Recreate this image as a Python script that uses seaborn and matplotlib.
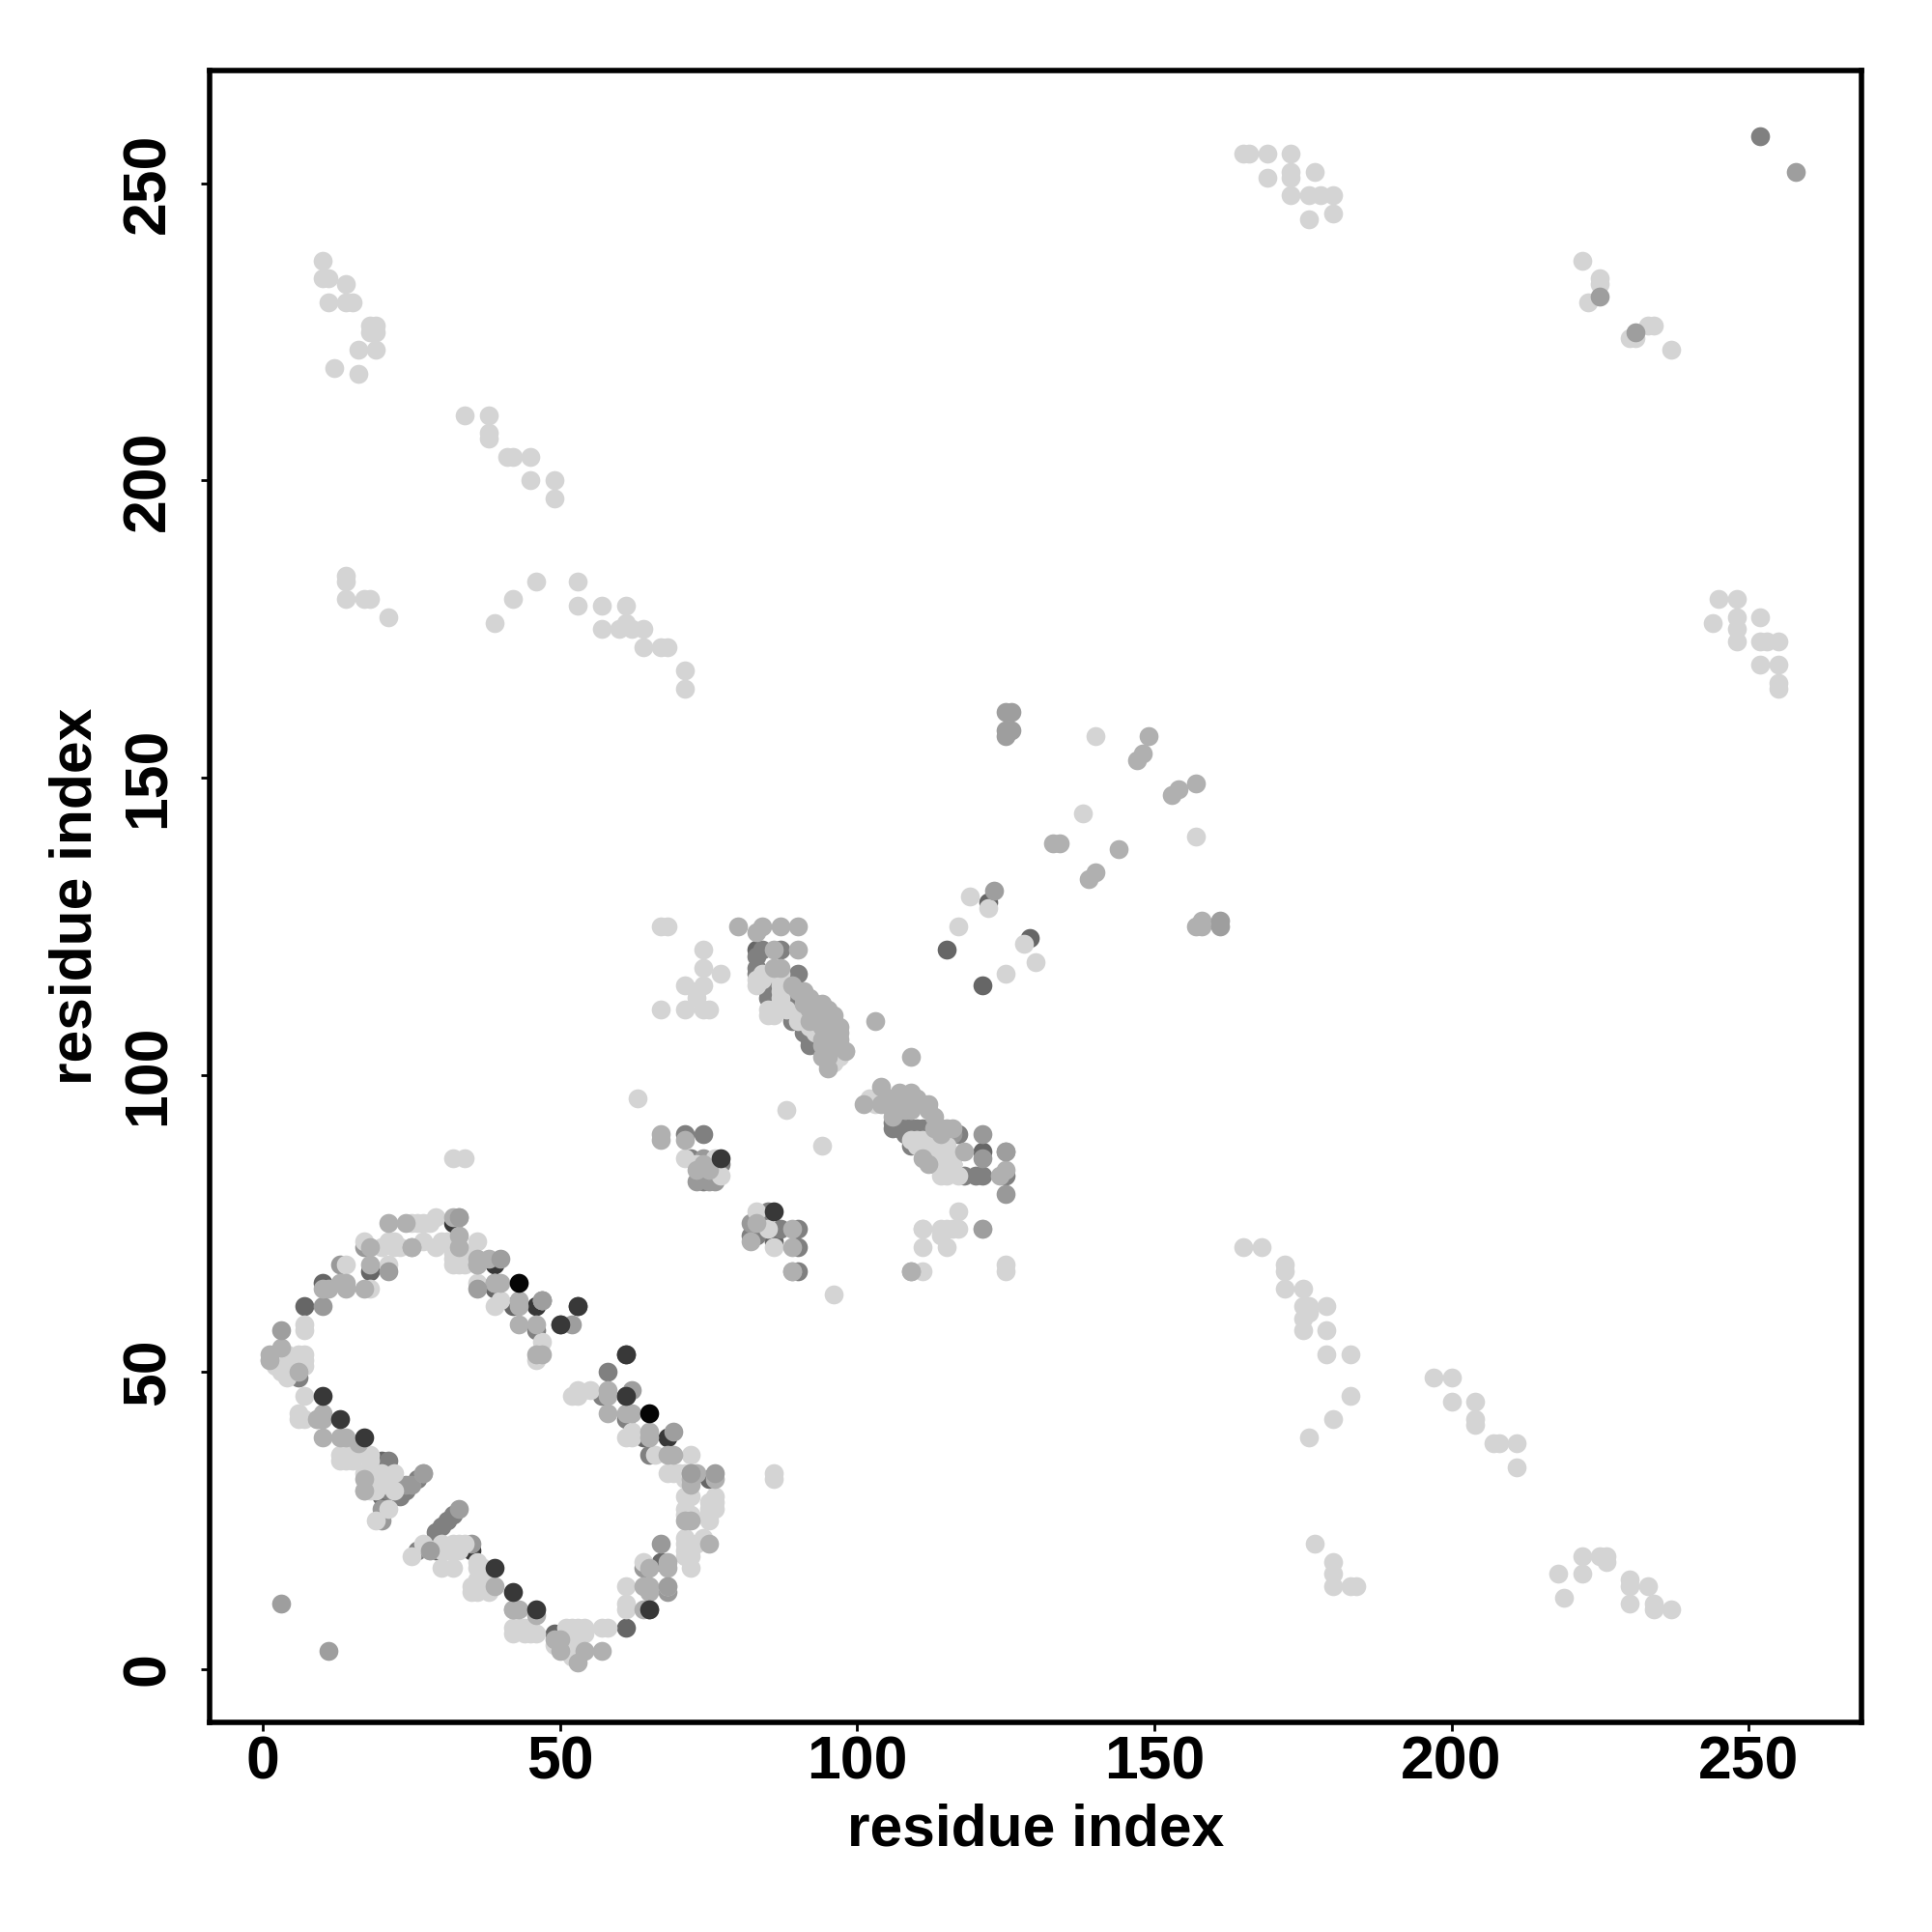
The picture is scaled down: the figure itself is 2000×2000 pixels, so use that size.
import matplotlib
matplotlib.use('Agg')
import matplotlib.pyplot as plt
import seaborn as sns

# Contact map points, grouped by grey level and listed in drawing order
dark22_x = [32, 35, 39, 46, 61, 68]
dark22_y = [75, 20, 68, 61, 46, 39]

dark40_x = [18, 10, 7, 39, 42, 20, 20, 29, 49, 61, 64, 67, 53, 61, 75, 122, 129, 115, 121, 121, 83, 86]
dark40_y = [67, 65, 61, 64, 61, 35, 29, 20, 6, 7, 39, 18, 61, 53, 32, 129, 123, 121, 115, 87, 121, 72]

dark50_x = [6, 21, 21, 26, 24, 23, 20, 32, 31, 30, 29, 26, 46, 50, 58, 57, 65, 61, 65,
            83, 84, 87, 83, 83, 85, 85, 85, 85, 89, 89, 89, 89, 91, 91, 92, 92, 90, 93, 94,
            71, 74, 72, 77, 74, 85, 82, 83, 87, 90, 90, 90,
            106, 107, 108, 109, 110, 111, 109, 113, 115, 116, 117, 118, 120, 121, 125, 252,
            106, 108, 109, 111, 112, 113, 114, 112, 111]
dark50_y = [49, 35, 30, 32, 30, 29, 26, 26, 25, 24, 23, 20, 57, 58, 50, 46, 10, 42, 36,
            120, 121, 121, 118, 117, 116, 115, 114, 113, 113, 112, 110, 109, 108, 107, 106, 105, 117, 106, 104,
            90, 90, 86, 85, 82, 77, 73, 73, 74, 74, 71, 67,
            91, 91, 91, 91, 91, 91, 88, 85, 85, 85, 90, 83, 83, 83, 83, 258,
            92, 90, 90, 90, 90, 90, 87, 88, 88]

mid60_x = [17, 10, 13, 20, 20, 24, 25, 35, 64, 68, 67, 82, 74, 76, 73, 75, 115, 116, 121, 125, 125, 121]
mid60_y = [71, 61, 68, 27, 25, 31, 31, 21, 17, 13, 21, 75, 86, 82, 82, 82, 90, 90, 86, 87, 80, 90]

light83_x = [25, 26, 27, 28, 29, 30, 36, 27, 29, 17, 20, 21, 22, 14, 21, 18, 7, 7,
             2, 4, 6, 7, 7, 7, 3, 4, 5, 1, 7, 6, 6, 7, 9, 14, 13, 13, 14, 18, 21, 21, 18, 17, 19,
             30, 32, 33, 27, 28, 25, 30, 32, 36, 36, 35, 36, 35, 36, 42, 43, 42, 44,
             49, 51, 52, 53, 50, 51, 52, 53, 57, 58, 61, 61, 61, 64, 68, 71, 71, 72, 72, 71, 72, 75, 75, 75, 76, 68, 69, 66, 72,
             36, 32, 33, 32, 33, 40, 39, 47, 46, 53, 55, 52, 53, 62, 61, 62,
             83, 83, 84, 84, 87, 87, 87, 87, 87, 87, 85, 85, 86, 86, 88, 90, 90, 93, 96, 96, 97,
             67, 68, 74, 74, 77, 71, 73, 74, 73, 75, 67, 71, 74,
             63, 88, 94, 71, 76, 77, 83, 85, 86, 73,
             102, 103, 109, 110, 111, 112, 113, 114, 115, 116, 114, 115, 117, 111,
             111, 114, 115, 116, 117, 114, 117, 121, 111, 115, 111, 125, 125,
             32, 34, 86, 86, 96,
             119, 122, 117, 128, 130, 125, 138, 140, 157,
             15, 15, 17, 18, 19, 18, 20, 22, 22, 20,
             30, 31, 32, 33, 34, 37, 37, 37, 38, 36,
             22, 23, 31, 34, 33, 32, 34,
             3, 4, 5, 5, 6, 6, 2, 4,
             44, 45, 46, 45, 52, 53, 52, 52, 53, 51, 53, 54, 54,
             71, 71, 72, 75, 76, 76, 74, 73, 72, 71, 72, 71, 70, 71, 71,
             91, 92, 93, 97, 98,
             110, 113, 115, 111, 112, 113, 114, 116, 116]
light83_y = [75, 75, 75, 75, 76, 72, 72, 72, 71, 72, 71, 72, 71, 68, 68, 64, 58, 57,
             53, 53, 53, 53, 52, 51, 50, 49, 51, 52, 46, 43, 42, 42, 42, 36, 36, 35, 35, 36, 32, 27, 32, 30, 25,
             21, 21, 21, 21, 20, 19, 17, 17, 18, 17, 14, 14, 13, 13, 7, 7, 6, 6,
             4, 7, 7, 7, 5, 4, 2, 2, 7, 7, 14, 11, 10, 18, 14, 22, 20, 21, 17, 29, 29, 25, 27, 28, 29, 33, 33, 36, 36,
             65, 69, 69, 68, 68, 62, 61, 55, 52, 47, 47, 46, 46, 40, 39, 39,
             116, 115, 117, 116, 117, 116, 115, 114, 113, 112, 111, 110, 111, 110, 111, 110, 109, 107, 103, 102, 104,
             125, 125, 121, 118, 117, 115, 114, 115, 113, 111, 111, 111, 111,
             96, 94, 88, 86, 86, 83, 77, 74, 71, 85,
             96, 95, 89, 89, 89, 86, 86, 86, 86, 86, 83, 83, 83, 74,
             74, 74, 74, 74, 74, 73, 77, 74, 71, 71, 67, 68, 67,
             86, 86, 33, 32, 63,
             130, 128, 125, 122, 119, 117, 144, 157, 140,
             36, 35, 33, 35, 30, 30, 33, 30, 33, 31,
             20, 20, 20, 20, 21, 17, 15, 14, 13, 15,
             72, 71, 72, 70, 70, 70, 68,
             52, 51, 50, 52, 52, 51, 51, 50,
             7, 6, 6, 7, 5, 5, 3, 4, 4, 3, 3, 7, 6,
             27, 26, 26, 26, 28, 27, 22, 21, 19, 19, 20, 21, 33, 33, 32,
             109, 108, 108, 103, 104,
             88, 88, 88, 87, 87, 87, 84, 84, 85]

# isolated pale contacts far from the diagonal
far_x = [165, 166, 169, 173, 169, 173, 173, 177, 173, 176, 178, 180, 176, 180,
         10, 10, 11, 14, 11, 14, 15, 18, 19, 18, 19, 19, 16, 12, 16,
         34, 38, 38, 38, 41, 42, 45, 45, 49, 49,
         14, 14, 14, 17, 18, 21, 39, 42, 46, 53, 53, 57, 57, 61, 60, 61, 62, 64, 64, 67, 68, 71, 71,
         244, 245, 248, 248, 248, 248, 252, 252, 253, 255, 252, 255, 255, 255,
         222, 225, 225, 223, 230, 231, 233, 234, 237,
         165, 168, 172, 172, 172, 175, 175, 176, 179, 175, 176, 175, 179, 179, 183, 183, 176, 180,
         197, 200, 200, 204, 204, 204, 207, 208, 211, 211,
         177, 180, 180, 180, 183, 184,
         218, 219, 222, 222, 225, 226, 226, 230, 230, 230, 233, 234, 234, 237]
far_y = [255, 255, 255, 255, 251, 252, 251, 252, 248, 248, 248, 248, 244, 245,
         237, 234, 234, 233, 230, 230, 230, 226, 226, 225, 225, 222, 222, 219, 218,
         211, 211, 208, 207, 204, 204, 204, 200, 200, 197,
         184, 183, 180, 180, 180, 177, 176, 180, 183, 183, 179, 179, 175, 179, 175, 176, 175, 175, 172, 172, 172, 168, 165,
         176, 180, 180, 177, 175, 173, 177, 173, 173, 173, 169, 169, 166, 165,
         237, 234, 233, 230, 224, 224, 226, 226, 222,
         71, 71, 68, 67, 64, 64, 61, 61, 61, 59, 60, 57, 57, 53, 53, 46, 39, 42,
         49, 49, 45, 45, 42, 41, 38, 38, 38, 34,
         21, 18, 16, 14, 14, 14,
         16, 12, 19, 16, 19, 19, 18, 15, 14, 11, 14, 11, 10, 10]

mid70_x = [21, 24, 33, 32, 33, 33, 25, 25, 18, 18, 11, 10, 13, 14, 14, 17, 3, 1, 1, 6, 10, 10, 9,
           10, 13, 14, 16, 17, 17, 27, 36, 38, 39, 39, 39, 42, 43, 42, 46, 49, 50, 50,
           54, 53, 57, 64, 65, 65, 64, 65, 68, 68, 71, 72, 72, 72, 73, 75, 76, 72,
           36, 36, 39, 40, 43, 43, 43, 46, 47, 46, 47, 58, 58, 58, 61, 62, 65, 65, 68, 69,
           104, 101, 104, 105, 107, 107, 110, 112, 109, 113, 114, 118, 124, 125, 109, 111,
           83, 84, 80, 87, 90, 86, 90, 86, 87, 90, 91, 91, 91, 89, 94, 95, 94, 94, 94, 94, 94, 95, 96, 96, 97, 97, 98,
           95, 96, 94, 95, 67, 67, 71, 82, 83, 89, 89, 89, 89, 103, 109, 109,
           157, 158, 158, 134, 133, 144, 139, 140, 147, 148, 153, 154, 157, 149,
           92, 92, 92, 93, 93, 93, 92, 95, 95, 95, 96, 96, 97, 97, 95,
           105, 106, 106, 108, 108, 109, 110, 111, 112, 113, 108, 107, 106, 114, 115, 116, 114, 112,
           74, 73, 75]
mid70_y = [75, 75, 76, 76, 73, 71, 71, 71, 68, 71, 64, 64, 65, 65, 64, 64, 54, 53, 52, 50, 43, 42, 42,
           39, 39, 39, 38, 32, 30, 33, 68, 69, 65, 65, 14, 10, 10, 10, 9, 5, 5, 3,
           3, 1, 3, 14, 14, 13, 10, 17, 18, 17, 25, 25, 32, 31, 33, 21, 32, 33,
           69, 68, 65, 65, 62, 61, 58, 58, 62, 53, 53, 47, 46, 43, 43, 43, 40, 39, 36, 36,
           98, 95, 95, 96, 97, 95, 96, 94, 94, 91, 91, 87, 83, 84, 67, 86,
           124, 125, 125, 125, 125, 121, 121, 118, 118, 114, 114, 113, 112, 115, 112, 111, 111, 110, 108, 106, 105, 108, 110, 105, 107, 106, 104,
           104, 109, 103, 101, 90, 89, 89, 72, 75, 74, 71, 67, 67, 109, 103, 67,
           125, 125, 126, 139, 139, 138, 133, 134, 153, 154, 147, 148, 149, 157,
           113, 112, 111, 112, 110, 109, 109, 107, 106, 105, 107, 106, 108, 105, 103,
           95, 94, 96, 96, 95, 97, 95, 95, 95, 93, 94, 94, 93, 91, 91, 91, 90, 85,
           85, 84, 84]

mid62_x = [3, 33, 40, 47, 3, 11, 27, 33, 52, 28, 36, 47, 21, 69, 62, 68, 76, 72, 125, 126, 125, 126, 125, 161, 161, 123, 258, 225, 231, 121, 125]
mid62_y = [57, 76, 69, 62, 11, 3, 33, 27, 58, 20, 64, 62, 67, 40, 47, 14, 33, 33, 161, 161, 158, 158, 157, 126, 125, 131, 252, 231, 225, 74, 87]

top22_x = [10, 13, 17, 39, 42, 46, 65, 50, 53, 61, 61, 86, 77]
top22_y = [46, 42, 39, 17, 13, 10, 10, 58, 61, 46, 53, 77, 86]

top00_x = [43, 65]
top00_y = [65, 43]

layers = [
    (dark22_x, dark22_y, '0.22'),
    (dark40_x, dark40_y, '0.40'),
    (dark50_x, dark50_y, '0.50'),
    (mid60_x, mid60_y, '0.60'),
    (light83_x, light83_y, '0.83'),
    (far_x, far_y, '0.83'),
    (mid70_x, mid70_y, '0.69'),
    (mid62_x, mid62_y, '0.62'),
    (top22_x, top22_y, '0.22'),
    (top00_x, top00_y, '0.02'),
]

ticks = [0, 50, 100, 150, 200, 250]

sns.set_style('white')
plt.rcParams['font.family'] = ['Liberation Sans', 'DejaVu Sans']

fig = plt.figure(figsize=(10, 10), dpi=200)
ax = fig.add_axes([217 / 2000, 1 - 1783 / 2000, 1710 / 2000, 1710 / 2000])

for xs, ys, grey in layers:
    sns.scatterplot(x=xs, y=ys, color=grey, s=50, linewidth=0, ax=ax, legend=False)

ax.set_xlim(-9, 269)
ax.set_ylim(-9, 269)
ax.set_xticks(ticks)
ax.set_yticks(ticks)
ax.tick_params(axis='x', direction='out', length=3.1, width=1.0, color='black',
               labelsize=22.5, labelcolor='black', bottom=True, pad=1.5)
ax.tick_params(axis='y', direction='out', length=3.1, width=1.0, color='black',
               labelsize=22.5, labelcolor='black', left=True, pad=9)
for lab in ax.get_xticklabels():
    lab.set_fontweight('bold')
for lab in ax.get_yticklabels():
    lab.set_fontweight('bold')
    lab.set_rotation(90)
    lab.set_verticalalignment('center')

ax.set_xlabel('residue index', fontsize=21.8, fontweight='bold', color='black', labelpad=4.2)
ax.set_ylabel('residue index', fontsize=21.8, fontweight='bold', color='black', labelpad=6.2)

for sp in ax.spines.values():
    sp.set_linewidth(2.0)
    sp.set_color('black')

fig.savefig('out.png', dpi=200)
